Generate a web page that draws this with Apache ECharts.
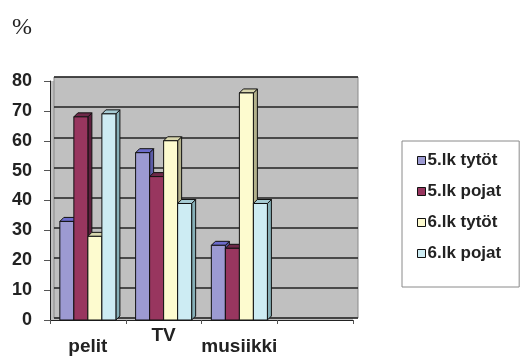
<!DOCTYPE html>
<html>
<head>
<meta charset="utf-8">
<script src="https://cdn.jsdelivr.net/npm/echarts@6/dist/echarts.min.js"></script>
<style>
  html, body { margin: 0; padding: 0; background: #fff; }
  #myChart { width: 520px; height: 356px; }
</style>
</head>
<body>
<div id="myChart"></div>
<script type="text/javascript">
  // data
  const categories = ['pelit', 'TV', 'musiikki', '']
  const seriesNames = ['5.lk tytöt', '5.lk pojat', '6.lk tytöt', '6.lk pojat']
  const tytot5 = [33, 56, 25]
  const pojat5 = [68, 48, 24]
  const tytot6 = [28, 60, 76]
  const pojat6 = [69, 39, 39]
  const yTicks = [0, 10, 20, 30, 40, 50, 60, 70, 80]

  const values = [tytot5, pojat5, tytot6, pojat6]
  // front, side, top
  const colors = [
    ['#9c9ad2', '#5c5ca6', '#6c6ccc'],
    ['#98365f', '#5e1f3e', '#6e2848'],
    ['#fdfbcf', '#b3b18c', '#d8d6ae'],
    ['#cdecf3', '#86b0b8', '#a6ccd4']
  ]
  const dx = 4, dy = 4

  function bar3d (si) {
    return function (params, api) {
      let cat = api.value(0), val = api.value(1)
      let base = api.coord([cat, 0])
      let tip = api.coord([cat, val])
      let band = api.size([1, 0])[0]
      let w = band * 0.185
      let x0 = base[0] - 2 * w + si * w
      let x1 = x0 + w
      let yb = base[1], yt = tip[1]
      let st = {stroke: '#111', lineWidth: 1}
      return {
        type: 'group',
        children: [
          {type: 'polygon', shape: {points: [[x1, yt], [x1 + dx, yt - dy], [x1 + dx, yb - dy], [x1, yb]]},
            style: Object.assign({fill: colors[si][1]}, st)},
          {type: 'polygon', shape: {points: [[x0, yt], [x1, yt], [x1 + dx, yt - dy], [x0 + dx, yt - dy]]},
            style: Object.assign({fill: colors[si][2]}, st)},
          {type: 'rect', shape: {x: x0, y: yt, width: w, height: yb - yt},
            style: Object.assign({fill: colors[si][0]}, st)}
        ]
      }
    }
  }

  let myChart = echarts.init(document.getElementById('myChart'))
  myChart.setOption({
    animation: false,
    title: {
      text: '%', left: 7, top: 11,
      textStyle: {fontFamily: 'Liberation Serif', fontSize: 24, fontWeight: 'normal', color: '#222'}
    },
    grid: [
      // front plane: axes and bars
      {left: 50, right: 167, top: 81, bottom: 34,
        show: true, backgroundColor: '#c0c0c0', borderWidth: 0},
      // back wall: gridlines, shifted up/right for the 3D look
      {left: 54, right: 162, top: 77, bottom: 38,
        show: true, backgroundColor: '#c0c0c0', borderColor: '#8a8a8a', borderWidth: 1}
    ],
    legend: {
      orient: 'vertical', left: 402, top: 141,
      padding: [11, 18, 25, 15], itemGap: 14,
      itemWidth: 8, itemHeight: 8, icon: 'rect',
      backgroundColor: '#fff', borderColor: '#8a8a8a', borderWidth: 1,
      itemStyle: {borderColor: '#111', borderWidth: 1},
      textStyle: {fontFamily: 'Liberation Sans', fontSize: 17, fontWeight: 'bold', color: '#222', padding: [0, 0, 0, -3]},
      data: seriesNames
    },
    xAxis: [
      {
        type: 'category', data: categories, gridIndex: 0,
        axisLine: {lineStyle: {color: '#222', width: 1}},
        axisTick: {show: true, length: 4, lineStyle: {color: '#555'}},
        axisLabel: {
          margin: 6, interval: 0, color: '#222',
          fontFamily: 'Liberation Sans', fontSize: 19, fontWeight: 'bold',
          formatter: function (v, i) { return i % 2 === 0 ? '{lo|' + v + '}' : '{hi|' + v + '}' },
          rich: {
            lo: {fontFamily: 'Liberation Sans', fontSize: 19, fontWeight: 'bold', color: '#222', padding: [11, 0, 0, 0]},
            hi: {fontFamily: 'Liberation Sans', fontSize: 19, fontWeight: 'bold', color: '#222'}
          }
        }
      },
      {type: 'category', data: categories, gridIndex: 1, show: false}
    ],
    yAxis: [
      {
        type: 'value', gridIndex: 0, min: yTicks[0], max: yTicks[yTicks.length - 1], interval: 10,
        axisLine: {show: true, lineStyle: {color: '#222'}},
        axisTick: {show: true, length: 6, lineStyle: {color: '#555'}},
        splitLine: {show: false},
        axisLabel: {margin: 18, color: '#222', fontFamily: 'Liberation Sans', fontSize: 18, fontWeight: 'bold'}
      },
      {
        type: 'value', gridIndex: 1, min: yTicks[0], max: yTicks[yTicks.length - 1], interval: 10,
        axisLine: {show: false}, axisTick: {show: false}, axisLabel: {show: false},
        splitLine: {lineStyle: {color: '#222', width: 1.5}}
      }
    ],
    series: values.map(function (vals, si) {
      return {
        name: seriesNames[si],
        type: 'custom',
        xAxisIndex: 0, yAxisIndex: 0,
        z: 5,
        renderItem: bar3d(si),
        itemStyle: {color: colors[si][0]},
        encode: {x: 0, y: 1},
        data: vals.map(function (v, i) { return [i, v] })
      }
    })
  })
</script>
</body>
</html>
